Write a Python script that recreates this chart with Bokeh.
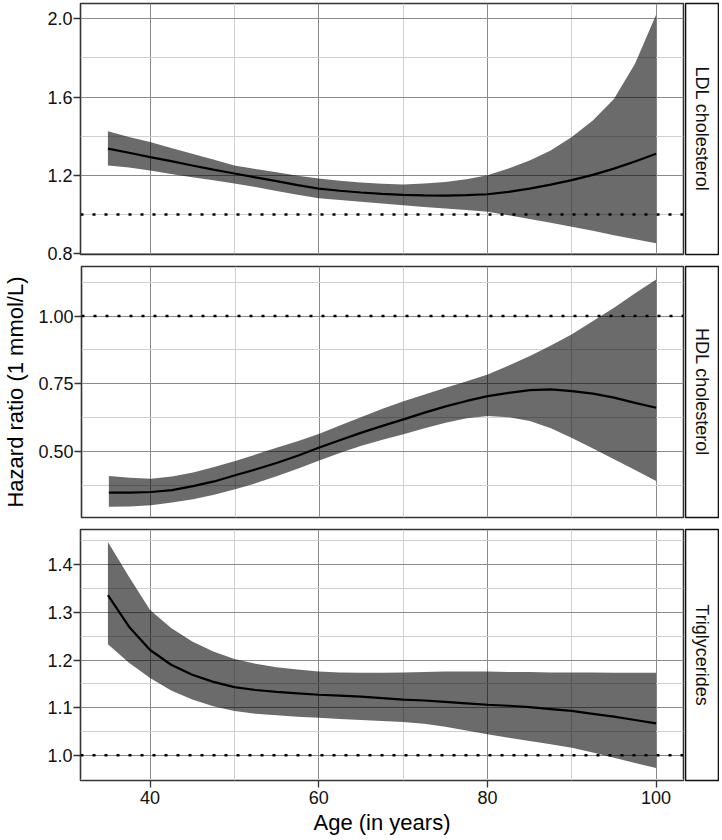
import math
from bokeh.plotting import figure
from bokeh.models import Range1d, FixedTicker, Span
from bokeh.layouts import column, row
from bokeh.embed import file_html
from bokeh.resources import INLINE
from bokeh.core.properties import value

# ---------------- data ----------------
ages = [35, 37.5, 40, 42.5, 45, 47.5, 50, 52.5, 55, 57.5, 60, 62.5, 65, 67.5,
        70, 72.5, 75, 77.5, 80, 82.5, 85, 87.5, 90, 92.5, 95, 97.5, 100]

ldl_hr = [1.336, 1.315, 1.293, 1.272, 1.250, 1.229, 1.209, 1.189, 1.170, 1.150, 1.132, 1.121, 1.112, 1.105,
          1.100, 1.097, 1.096, 1.098, 1.103, 1.115, 1.132, 1.152, 1.175, 1.202, 1.234, 1.270, 1.310]
ldl_hi = [1.425, 1.395, 1.370, 1.340, 1.310, 1.280, 1.250, 1.232, 1.215, 1.198, 1.183, 1.172, 1.163, 1.157,
          1.153, 1.158, 1.166, 1.180, 1.200, 1.234, 1.276, 1.327, 1.395, 1.480, 1.590, 1.770, 2.020]
ldl_lo = [1.250, 1.240, 1.225, 1.207, 1.190, 1.174, 1.158, 1.140, 1.120, 1.100, 1.083, 1.073, 1.065, 1.056,
          1.047, 1.038, 1.030, 1.022, 1.013, 0.995, 0.976, 0.957, 0.937, 0.916, 0.894, 0.873, 0.852]

hdl_hr = [0.349, 0.349, 0.351, 0.358, 0.373, 0.390, 0.413, 0.435, 0.459, 0.486, 0.515, 0.543, 0.570, 0.595,
          0.619, 0.644, 0.667, 0.687, 0.705, 0.717, 0.727, 0.730, 0.723, 0.714, 0.699, 0.680, 0.662]
hdl_hi = [0.410, 0.404, 0.400, 0.408, 0.423, 0.443, 0.465, 0.490, 0.515, 0.539, 0.566, 0.597, 0.628, 0.658,
          0.686, 0.711, 0.736, 0.760, 0.785, 0.818, 0.853, 0.892, 0.933, 0.982, 1.031, 1.084, 1.135]
hdl_lo = [0.297, 0.298, 0.302, 0.312, 0.324, 0.341, 0.361, 0.384, 0.410, 0.438, 0.467, 0.496, 0.522, 0.544,
          0.564, 0.586, 0.607, 0.623, 0.631, 0.627, 0.613, 0.586, 0.550, 0.512, 0.472, 0.432, 0.392]

tg_hr = [1.336, 1.270, 1.221, 1.190, 1.169, 1.154, 1.143, 1.137, 1.133, 1.130, 1.127, 1.125, 1.123, 1.120,
         1.117, 1.115, 1.112, 1.109, 1.106, 1.104, 1.101, 1.097, 1.093, 1.087, 1.081, 1.074, 1.067]
tg_hi = [1.448, 1.375, 1.305, 1.267, 1.239, 1.218, 1.202, 1.192, 1.185, 1.180, 1.176, 1.174, 1.173, 1.173,
         1.174, 1.175, 1.176, 1.176, 1.176, 1.175, 1.175, 1.174, 1.174, 1.174, 1.173, 1.173, 1.173]
tg_lo = [1.233, 1.194, 1.162, 1.136, 1.117, 1.103, 1.093, 1.087, 1.084, 1.081, 1.079, 1.076, 1.074, 1.072,
         1.070, 1.066, 1.060, 1.052, 1.044, 1.037, 1.030, 1.023, 1.016, 1.006, 0.995, 0.984, 0.973]

strip_labels = ["LDL cholesterol", "HDL cholesterol", "Triglycerides"]
x_title = "Age (in years)"
y_title = "Hazard ratio (1 mmol/L)"

x_major = [40, 60, 80, 100]
x_minor = [50, 70, 90]
y_major = [[0.8, 1.2, 1.6, 2.0], [0.50, 0.75, 1.00], [1.0, 1.1, 1.2, 1.3, 1.4]]
y_minor = [[1.0, 1.4, 1.8], [0.375, 0.625, 0.875, 1.125], [0.95, 1.05, 1.15, 1.25, 1.35, 1.45]]
y_fmt = [{0.8: "0.8", 1.2: "1.2", 1.6: "1.6", 2.0: "2.0"},
         {0.5: "0.50", 0.75: "0.75", 1.0: "1.00"},
         {1.0: "1.0", 1.1: "1.1", 1.2: "1.2", 1.3: "1.3", 1.4: "1.4"}]
y_ranges = [(0.795, 2.078), (0.257, 1.183), (0.947, 1.474)]
x_range = (31.75, 103.25)
ref_line = 1.0

series = [(ldl_hr, ldl_lo, ldl_hi), (hdl_hr, hdl_lo, hdl_hi), (tg_hr, tg_lo, tg_hi)]

# ---------------- layout / style ----------------
FONT = "Liberation Sans"
TEXT = "#111111"
LEFT = 80
FRAME_W = 603
STRIP_W = 35
tops = [3, 2, 6]
frames_h = [251, 251, 251]
bottoms = [10, 6, 59]

rows = []
for i in range(3):
    h = tops[i] + frames_h[i] + bottoms[i]
    p = figure(width=LEFT + FRAME_W + 1, height=h,
               x_range=Range1d(*x_range), y_range=Range1d(*y_ranges[i]),
               output_backend="svg", toolbar_location=None,
               min_border_left=LEFT, min_border_right=1,
               min_border_top=tops[i], min_border_bottom=bottoms[i])
    p.background_fill_color = "white"
    p.border_fill_color = "white"
    p.outline_line_color = "#333333"
    p.outline_line_width = 1.6

    # ticks & grids
    p.xaxis.ticker = FixedTicker(ticks=x_major, minor_ticks=x_minor)
    p.yaxis.ticker = FixedTicker(ticks=y_major[i], minor_ticks=y_minor[i])
    p.yaxis.major_label_overrides = y_fmt[i]
    for g in (p.xgrid, p.ygrid):
        g.grid_line_color = "#8a8a8a"
        g.grid_line_width = 1
        g.minor_grid_line_color = "#d0d0d0"
        g.minor_grid_line_width = 1

    for ax in (p.xaxis, p.yaxis):
        ax.axis_line_color = None
        ax.major_tick_line_color = "#333333"
        ax.major_tick_line_width = 1.3
        ax.major_tick_out = 7
        ax.major_tick_in = 0
        ax.minor_tick_line_color = None
        ax.major_label_text_font = FONT
        ax.major_label_text_font_size = "18px"
        ax.major_label_text_color = TEXT
        ax.axis_label_text_font = FONT
        ax.axis_label_text_font_size = "22px"
        ax.axis_label_text_font_style = "normal"
        ax.axis_label_text_color = "black"
    p.yaxis.major_label_standoff = 1
    p.xaxis.major_label_standoff = 3

    if i == 1:
        p.yaxis.axis_label = y_title
        p.yaxis.axis_label_standoff = 7
    if i == 2:
        p.xaxis.axis_label = x_title
        p.xaxis.axis_label_standoff = 3
    else:
        p.xaxis.visible = False

    hr, lo, hi = series[i]
    p.varea(x=ages, y1=lo, y2=hi, fill_color="black", fill_alpha=0.58)
    p.add_layout(Span(location=ref_line, dimension="width", line_color="black",
                      line_width=2.5, line_dash="3 9"))
    p.line(x=ages, y=hr, line_color="black", line_width=2.2)

    s = figure(width=STRIP_W, height=h, x_range=Range1d(0, 1), y_range=Range1d(0, 1),
               x_axis_type=None, y_axis_type=None,
               output_backend="svg", toolbar_location=None,
               min_border_left=1, min_border_right=1,
               min_border_top=tops[i], min_border_bottom=bottoms[i])
    s.background_fill_color = "white"
    s.border_fill_color = "white"
    s.outline_line_color = "#111111"
    s.outline_line_width = 1.6
    s.text(x=[0.5], y=[0.5], text=[strip_labels[i]], angle=-math.pi / 2,
           text_align="center", text_baseline="middle",
           text_font=value(FONT), text_font_size="18px", text_color=TEXT)

    rows.append(row(p, s, spacing=0))

layout = column(*rows, spacing=0)
open("out.html", "w").write(file_html(layout, INLINE))
